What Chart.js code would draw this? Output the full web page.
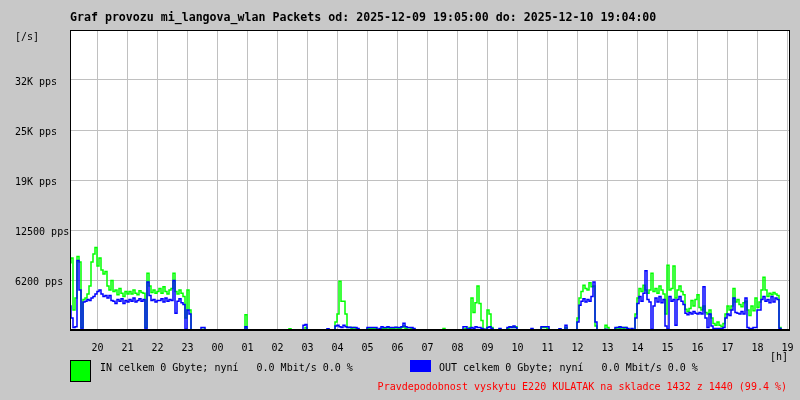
<!DOCTYPE html>
<html><head><meta charset="utf-8">
<script src="https://cdn.jsdelivr.net/npm/chart.js@4/dist/chart.umd.min.js"></script>
<style>html,body{margin:0;padding:0;background:#c8c8c8;}#wrap{width:800px;height:400px;}</style>
</head><body><div id="wrap"><canvas id="c" width="800" height="400"></canvas></div>
<script>
// ---- data ----
const titleText = 'Graf provozu mi_langova_wlan Packets od: 2025-12-09 19:05:00 do: 2025-12-10 19:04:00';
const hourLabels = ['20','21','22','23','00','01','02','03','04','05','06','07','08','09','10','11','12','13','14','15','16','17','18','19'];
const hourTickMinutes = [55,115,175,235,295,355,415,475,535,595,655,715,775,835,895,955,1015,1075,1135,1195,1255,1315,1375,1435];
const yTickValues = [6250,12500,18750,25000,31250,37500];
const yTickLabels = ['6200 pps','12500 pps','19K pps','25K pps','32K pps',''];
const sampleStepMinutes = 4;
const inPps = [
 8400,9000,2500,4000,9200,8500,300,3800,4000,4500,5500,8500,9500,10300,8000,
 9000,7500,7000,7300,5500,5000,6200,4800,5000,4400,5200,4600,4200,4800,4500,
 4800,4500,5000,4600,4400,4900,4700,4600,300,7100,5500,4700,5000,4600,4800,
 5200,4600,5400,4800,4500,5000,5200,7100,4800,4500,5000,4600,4200,1500,5000,
 2500,0,0,0,0,0,0,100,0,0,0,0,0,0,0,
 0,0,0,0,0,0,0,0,0,0,0,0,0,1900,0,
 0,0,0,0,0,0,0,0,0,0,0,0,0,0,0,
 0,0,0,0,0,150,0,0,0,0,0,0,0,300,0,
 0,0,0,0,0,0,0,0,0,100,0,0,0,1000,2000,
 6100,3600,3600,2000,300,300,200,300,200,100,0,0,0,0,200,
 200,200,200,200,0,100,200,200,200,300,200,200,200,300,200,
 200,300,500,200,100,100,200,100,0,0,0,0,0,0,0,
 0,0,0,0,0,0,0,200,0,0,0,0,0,0,0,
 0,0,100,200,0,300,4000,2200,3400,5500,3300,1200,100,0,2500,
 2000,300,0,0,0,100,0,0,0,200,300,400,300,400,0,
 0,0,0,0,0,0,100,0,0,0,0,300,300,300,200,
 0,0,0,0,0,100,0,0,300,0,0,0,0,0,1500,
 4000,4800,5600,5200,5000,5900,5400,5500,500,0,0,0,0,600,300,
 0,0,0,200,300,200,300,200,300,100,0,100,0,2000,4000,
 5200,4800,5600,5000,4600,5000,7100,4800,5200,4600,5500,5000,4500,2000,8100,
 5000,5200,8000,4000,5000,5500,4800,4400,2600,2300,2700,3700,3000,3800,4400,
 2800,2500,3000,2200,2000,2500,1500,800,600,1000,600,400,800,2000,3000,
 2500,3000,5200,3500,3800,3200,2900,3400,3600,2500,1800,3000,2400,4000,2800,
 3500,5000,6600,5000,4200,4600,4400,4700,4500,4300,300,0,0,0,0
];
const outPps = [
 3000,1500,300,400,8700,5000,100,3500,3600,3800,3700,4000,4200,4500,4800,
 5000,4500,4200,4300,4000,4300,3700,3600,3300,3800,3600,3900,3300,3700,3500,
 3800,3600,4000,3500,3700,3900,3600,3800,100,6000,4300,3700,3800,3500,3700,
 3700,3900,3500,4000,3600,3800,3700,6200,2100,3600,3900,3400,3200,100,2500,
 2000,0,0,0,0,0,300,300,0,0,0,0,0,0,0,
 0,0,0,0,0,0,0,0,0,0,0,0,0,400,0,
 0,0,0,0,0,0,0,0,0,0,0,0,0,0,0,
 0,0,0,0,0,0,0,0,0,0,0,0,600,700,0,
 0,0,0,0,0,0,0,0,0,150,0,0,0,500,600,
 400,300,600,400,300,350,300,300,300,200,0,0,0,0,300,
 300,300,300,300,0,200,400,300,300,400,300,300,300,350,300,
 300,400,850,400,300,300,300,200,0,0,0,0,0,0,0,
 0,0,0,0,0,0,0,0,0,0,0,0,0,0,0,
 0,0,400,400,100,200,300,200,400,300,300,200,100,0,300,
 400,200,0,0,0,200,0,0,0,300,400,300,500,300,0,
 0,0,0,0,0,0,200,0,0,0,0,400,400,400,400,
 0,0,0,0,0,150,0,0,600,0,0,0,0,0,1000,
 3100,3600,3900,3500,3800,3600,4200,6000,1000,0,0,0,0,100,0,
 0,0,0,300,300,400,300,300,300,200,0,200,0,1500,3300,
 4200,3600,4600,7400,3800,3500,100,3000,4000,3500,4200,3400,3800,500,100,
 4200,3600,3800,600,3800,4200,3600,3200,2100,1900,2200,2000,2300,2100,2000,
 2200,2000,5400,1500,300,2000,500,200,200,200,200,200,300,1500,2000,
 1800,2500,4000,2200,2100,2000,2300,2000,4000,300,200,200,300,300,2500,
 2500,3800,4200,3600,3800,3400,4200,3500,4000,3800,200,0,0,0,0
];
const inLegend = 'IN celkem 0 Gbyte; nyní   0.0 Mbit/s 0.0 %';
const outLegend = 'OUT celkem 0 Gbyte; nyní   0.0 Mbit/s 0.0 %';
const noteText = 'Pravdepodobnost vyskytu E220 KULATAK na skladce 1432 z 1440 (99.4 %)';
const unitY = '[/s]';
const unitX = '[h]';

// ---- chart ----
const mono = "'DejaVu Sans Mono','Liberation Mono',monospace";
const toPts = arr => arr.map((v, i) => ({x: i * sampleStepMinutes, y: v}));

const bgPlugin = {
  id: 'bg',
  beforeDraw(chart) {
    const c = chart.ctx, a = chart.chartArea;
    c.save();
    c.fillStyle = '#c8c8c8';
    c.fillRect(0, 0, chart.width, chart.height);
    c.fillStyle = '#ffffff';
    c.fillRect(a.left, a.top, a.right - a.left, a.bottom - a.top);
    c.restore();
  },
  afterDatasetsDraw(chart) {
    const c = chart.ctx, a = chart.chartArea;
    c.save();
    c.strokeStyle = '#000';
    c.lineWidth = 1;
    c.strokeRect(a.left + 0.5, a.top + 0.5, a.right - a.left - 1, a.bottom - a.top);
    c.fillStyle = '#000';
    c.fillRect(a.left, a.bottom - 1, a.right - a.left, 2);
    c.restore();
  },
  afterDraw(chart) {
    const c = chart.ctx, a = chart.chartArea;
    c.save();
    c.textBaseline = 'middle';
    c.fillStyle = '#000';
    c.font = 'bold 11.6px ' + mono;
    c.textAlign = 'left';
    c.fillText(titleText, a.left, 18);
    c.font = '10px ' + mono;
    c.fillText(unitY, 15, 37);
    c.textAlign = 'right';
    c.fillText(unitX, a.right - 2, 357);
    c.textAlign = 'left';
    // legend IN
    c.fillStyle = '#00ff00';
    c.fillRect(70, 360, 20, 21);
    c.strokeStyle = '#000';
    c.lineWidth = 1;
    c.strokeRect(70.5, 360.5, 20, 21);
    c.fillStyle = '#000';
    c.fillText(inLegend, 100, 368);
    // legend OUT
    c.fillStyle = '#0000ff';
    c.fillRect(410, 360, 21, 12);
    c.fillStyle = '#000';
    c.fillText(outLegend, 439, 368);
    // note
    c.fillStyle = '#ff0000';
    c.textAlign = 'right';
    c.fillText(noteText, 787, 387);
    c.restore();
  }
};

new Chart(document.getElementById('c').getContext('2d'), {
  type: 'line',
  data: {
    datasets: [
      {label: 'OUT', data: toPts(outPps), borderColor: '#0000ff', borderWidth: 1.5, pointRadius: 0, stepped: 'middle', fill: false},
      {label: 'IN', data: toPts(inPps), borderColor: '#00ff00', borderWidth: 1.5, pointRadius: 0, stepped: 'middle', fill: false}
    ]
  },
  options: {
    responsive: false, animation: false, devicePixelRatio: 1,
    layout: {padding: {left: 15, right: 10, top: 30, bottom: 0}},
    plugins: {legend: {display: false}, tooltip: {enabled: false}, title: {display: false}},
    scales: {
      x: {
        type: 'linear', min: 0, max: 1440,
        afterFit(s) { s.height = 70; },
        afterBuildTicks(s) { s.ticks = hourTickMinutes.map(v => ({value: v})); },
        ticks: {autoSkip: false, maxRotation: 0, padding: 0, color: '#000', font: {family: mono, size: 10},
          callback: (v) => hourLabels[hourTickMinutes.indexOf(v)]},
        grid: {color: '#c0c0c0', lineWidth: 1, drawTicks: true, tickLength: 12, tickColor: 'rgba(0,0,0,0)'},
        border: {display: false}
      },
      y: {
        min: 0, max: 37500,
        afterFit(s) { s.width = 55; },
        afterBuildTicks(s) { s.ticks = yTickValues.map(v => ({value: v})); },
        ticks: {crossAlign: 'far', padding: 0, labelOffset: 2, color: '#000', font: {family: mono, size: 10},
          callback: (v) => yTickLabels[yTickValues.indexOf(v)]},
        grid: {color: '#c0c0c0', lineWidth: 1, drawTicks: false},
        border: {display: false}
      }
    }
  },
  plugins: [bgPlugin]
});
</script></body></html>
